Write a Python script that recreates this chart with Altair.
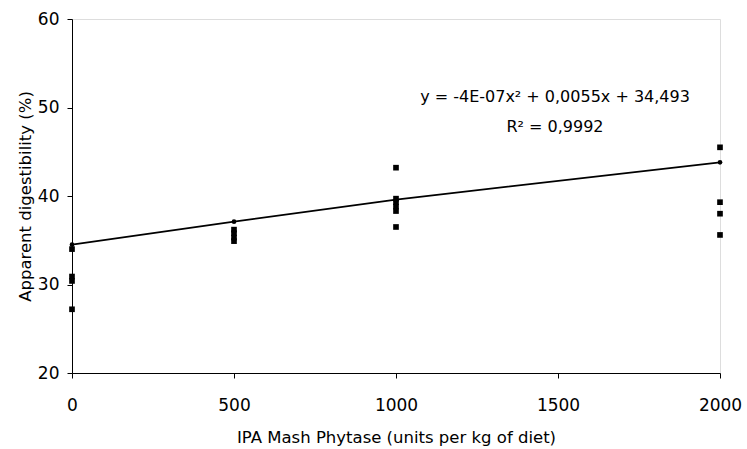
import altair as alt
import pandas as pd

# observed values
obs_x = [0, 0, 0, 0, 500, 500, 500, 500, 1000, 1000, 1000, 1000, 1000, 1000, 2000, 2000, 2000, 2000]
obs_y = [34.0, 30.9, 30.4, 27.2, 36.2, 35.8, 35.3, 34.9, 43.2, 39.7, 39.3, 38.8, 38.3, 36.5, 45.5, 39.3, 38.0, 35.6]

# trendline values at the doses
fit_x = [0, 500, 1000, 2000]
fit_y = [34.5, 37.1, 39.6, 43.8]

eq_lines = ["y = -4E-07x² + 0,0055x + 34,493", "R² = 0,9992"]

obs = pd.DataFrame({"x": obs_x, "y": obs_y})
fit = pd.DataFrame({"x": fit_x, "y": fit_y})
eq = pd.DataFrame({"t": eq_lines, "py": [78, 108]})

FONT = "DejaVu Sans"

xs = alt.Scale(domain=[0, 2000], nice=False)
ys = alt.Scale(domain=[20, 60], nice=False)

xax = alt.Axis(values=[0, 500, 1000, 1500, 2000], format="d",
               title="IPA Mash Phytase (units per kg of diet)",
               grid=False, domainColor="black", tickColor="black", labelColor="black",
               titleColor="black", labelFont=FONT, titleFont=FONT, labelFontSize=17,
               titleFontSize=16.5, titleFontWeight="normal", labelPadding=19, titlePadding=16,
               tickSize=5, labelFlush=False)
yax = alt.Axis(values=[20, 30, 40, 50, 60], format="d", title="Apparent digestibility (%)",
               grid=False, domainColor="black", tickColor="black", labelColor="black",
               titleColor="black", labelFont=FONT, titleFont=FONT, labelFontSize=17,
               titleFontSize=16.5, titleFontWeight="normal", labelPadding=8, titlePadding=4,
               tickSize=5)

line = alt.Chart(fit).mark_line(color="black", strokeWidth=1.8, clip=False).encode(
    x=alt.X("x:Q", scale=xs, axis=xax), y=alt.Y("y:Q", scale=ys, axis=yax))
dots = alt.Chart(fit).mark_point(shape="circle", filled=True, color="black", size=22, opacity=1, clip=False).encode(
    x=alt.X("x:Q", scale=xs), y=alt.Y("y:Q", scale=ys))
pts = alt.Chart(obs).mark_point(shape="square", filled=True, color="black", size=32, opacity=1, clip=False).encode(
    x=alt.X("x:Q", scale=xs), y=alt.Y("y:Q", scale=ys))
txt = alt.Chart(eq).mark_text(font=FONT, fontSize=16, color="black", align="center").encode(
    text="t:N", x=alt.value(483), y=alt.Y("py:Q", scale=None))

chart = alt.layer(line, dots, pts, txt).properties(
    width=648, height=354,
    autosize=alt.AutoSizeParams(type="none"),
    padding={"left": 72, "top": 19, "right": 27, "bottom": 76},
).configure_view(stroke=None).configure(background="white")

chart.save("out.html", embed_options={"renderer": "svg", "actions": False})
